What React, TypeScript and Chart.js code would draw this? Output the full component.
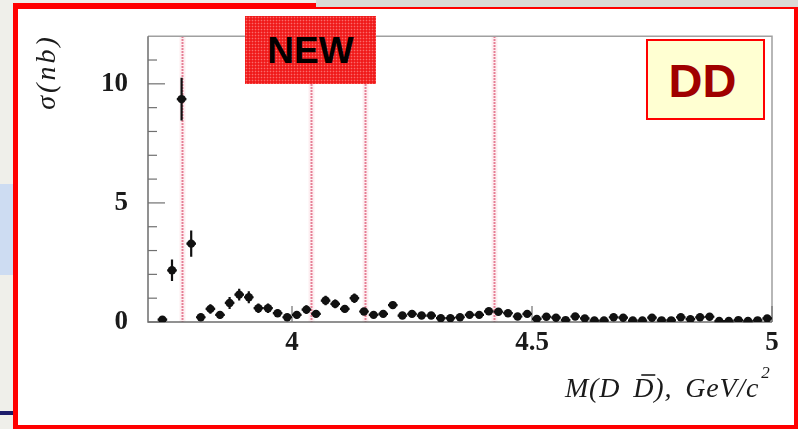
import React, { useEffect, useRef } from "react";
import { Chart, registerables } from "chart.js";

Chart.register(...registerables);

// Bin centres of M(D Dbar), GeV/c^2
const MASS = [
  3.73, 3.75, 3.77, 3.79, 3.81, 3.83, 3.85, 3.87, 3.89, 3.91,
  3.93, 3.95, 3.97, 3.99, 4.01, 4.03, 4.05, 4.07, 4.09, 4.11,
  4.13, 4.15, 4.17, 4.19, 4.21, 4.23, 4.25, 4.27, 4.29, 4.31,
  4.33, 4.35, 4.37, 4.39, 4.41, 4.43, 4.45, 4.47, 4.49, 4.51,
  4.53, 4.55, 4.57, 4.59, 4.61, 4.63, 4.65, 4.67, 4.69, 4.71,
  4.73, 4.75, 4.77, 4.79, 4.81, 4.83, 4.85, 4.87, 4.89, 4.91,
  4.93, 4.95, 4.97, 4.99,
];

// Cross section, nb
const SIGMA = [
  0.10, 2.17, 9.36, 3.29, 0.20, 0.55, 0.30, 0.80, 1.15, 1.04,
  0.58, 0.58, 0.37, 0.20, 0.30, 0.52, 0.34, 0.90, 0.76, 0.55,
  1.00, 0.44, 0.30, 0.34, 0.71, 0.27, 0.34, 0.27, 0.27, 0.16,
  0.16, 0.20, 0.30, 0.30, 0.45, 0.43, 0.37, 0.23, 0.34, 0.13,
  0.22, 0.18, 0.08, 0.23, 0.15, 0.06, 0.06, 0.20, 0.18, 0.06,
  0.06, 0.18, 0.07, 0.07, 0.20, 0.12, 0.20, 0.22, 0.04, 0.04,
  0.08, 0.04, 0.07, 0.15,
];

// Statistical errors, nb
const SIGMA_ERR = [
  0.10, 0.45, 0.90, 0.55, 0.15, 0.20, 0.15, 0.25, 0.25, 0.25,
  0.20, 0.20, 0.15, 0.12, 0.15, 0.18, 0.12, 0.20, 0.18, 0.15,
  0.20, 0.15, 0.10, 0.10, 0.15, 0.10, 0.10, 0.10, 0.10, 0.08,
  0.08, 0.08, 0.10, 0.10, 0.12, 0.12, 0.10, 0.08, 0.10, 0.07,
  0.08, 0.07, 0.06, 0.08, 0.07, 0.06, 0.06, 0.07, 0.07, 0.06,
  0.06, 0.07, 0.06, 0.06, 0.07, 0.06, 0.07, 0.07, 0.05, 0.05,
  0.06, 0.05, 0.06, 0.07,
];

const BIN_HALF_WIDTH = 0.01;

// psi(3770), psi(4040), psi(4160), psi(4415)
const RESONANCES = [3.77, 4.04, 4.153, 4.421];

const X_TICKS = [4, 4.5, 5];
const X_TICK_LABELS = ["4", "4.5", "5"];
const Y_TICKS = [0, 5, 10];
const Y_TICK_LABELS = ["0", "5", "10"];
const Y_MINOR = [1, 2, 3, 4, 6, 7, 8, 9, 11];

const SERIF = "'Liberation Serif', 'Times New Roman', serif";
const SANS = "'Liberation Sans', Arial, sans-serif";

const decorPlugin = {
  id: "decor",
  beforeDatasetsDraw(chart: any) {
    const { ctx, chartArea: a, scales } = chart;
    const xs = scales.x;
    const ys = scales.y;
    ctx.save();

    // resonance markers
    for (const m of RESONANCES) {
      const px = Math.round(xs.getPixelForValue(m)) + 0.5;
      ctx.strokeStyle = "rgba(250,205,215,0.35)";
      ctx.lineWidth = 6;
      ctx.setLineDash([]);
      ctx.beginPath();
      ctx.moveTo(px, a.top);
      ctx.lineTo(px, a.bottom);
      ctx.stroke();
      ctx.strokeStyle = "#df5a78";
      ctx.lineWidth = 2;
      ctx.setLineDash([1.5, 1.5]);
      ctx.beginPath();
      ctx.moveTo(px, a.top);
      ctx.lineTo(px, a.bottom);
      ctx.stroke();
    }
    ctx.setLineDash([]);

    // frame
    ctx.strokeStyle = "#a0a0a0";
    ctx.lineWidth = 1.5;
    ctx.beginPath();
    ctx.moveTo(a.left, a.top);
    ctx.lineTo(a.right, a.top);
    ctx.lineTo(a.right, a.bottom);
    ctx.stroke();
    ctx.strokeStyle = "#6e6e6e";
    ctx.beginPath();
    ctx.moveTo(a.left, a.top);
    ctx.lineTo(a.left, a.bottom);
    ctx.lineTo(a.right, a.bottom);
    ctx.stroke();

    // inward ticks
    ctx.lineWidth = 1.2;
    ctx.strokeStyle = "#707070";
    for (const v of Y_TICKS) {
      const py = ys.getPixelForValue(v);
      ctx.beginPath();
      ctx.moveTo(a.left, py);
      ctx.lineTo(a.left + 17, py);
      ctx.stroke();
    }
    for (const v of Y_MINOR) {
      const py = ys.getPixelForValue(v);
      ctx.beginPath();
      ctx.moveTo(a.left, py);
      ctx.lineTo(a.left + 9, py);
      ctx.stroke();
    }
    for (const v of X_TICKS) {
      const px = xs.getPixelForValue(v);
      ctx.beginPath();
      ctx.moveTo(px, a.bottom);
      ctx.lineTo(px, a.bottom - 16);
      ctx.stroke();
    }

    // error bars
    ctx.strokeStyle = "#111";
    ctx.lineWidth = 2.2;
    for (let i = 0; i < MASS.length; i++) {
      const cx = xs.getPixelForValue(MASS[i]);
      const cy = ys.getPixelForValue(SIGMA[i]);
      const x0 = xs.getPixelForValue(MASS[i] - BIN_HALF_WIDTH);
      const x1 = xs.getPixelForValue(MASS[i] + BIN_HALF_WIDTH);
      const y0 = ys.getPixelForValue(Math.max(0, SIGMA[i] - SIGMA_ERR[i]));
      const y1 = ys.getPixelForValue(SIGMA[i] + SIGMA_ERR[i]);
      ctx.beginPath();
      ctx.moveTo(x0, cy);
      ctx.lineTo(x1, cy);
      ctx.moveTo(cx, y0);
      ctx.lineTo(cx, y1);
      ctx.stroke();
    }
    ctx.restore();
  },
  afterDraw(chart: any) {
    const { ctx } = chart;
    ctx.save();
    ctx.fillStyle = "#1a1a1a";

    // y title
    ctx.save();
    ctx.translate(48, 72);
    ctx.rotate(-Math.PI / 2);
    ctx.font = `italic 28px ${SERIF}`;
    (ctx as any).letterSpacing = "3px";
    ctx.textAlign = "center";
    ctx.textBaseline = "middle";
    ctx.fillText("\u03c3(nb)", 0, 0);
    ctx.restore();

    // x title
    ctx.font = `italic 28px ${SERIF}`;
    (ctx as any).letterSpacing = "0.8px";
    ctx.textAlign = "left";
    ctx.textBaseline = "alphabetic";
    const base = 397;
    let x = 565;
    ctx.fillText("M(D", x, base);
    x += ctx.measureText("M(D").width + 13;
    const dW = ctx.measureText("D").width;
    ctx.fillText("D", x, base);
    ctx.strokeStyle = "#1a1a1a";
    ctx.lineWidth = 1.6;
    ctx.beginPath();
    ctx.moveTo(x + 8, base - 22);
    ctx.lineTo(x + dW + 1, base - 22);
    ctx.stroke();
    x += dW;
    ctx.fillText("),", x, base);
    x += ctx.measureText("),").width + 13;
    ctx.fillText("GeV/c", x, base);
    x += ctx.measureText("GeV/c").width + 2;
    ctx.font = `italic 17px ${SERIF}`;
    ctx.fillText("2", x, base - 19);
    ctx.restore();
  },
};

export default function App() {
  const ref = useRef<HTMLCanvasElement>(null);

  useEffect(() => {
    document.body.style.margin = "0";
    const points = MASS.map((m, i) => ({ x: m, y: SIGMA[i] }));
    const chart = new Chart(ref.current as HTMLCanvasElement, {
      type: "scatter",
      data: {
        datasets: [
          {
            data: points,
            pointRadius: 4.2,
            pointBackgroundColor: "#111",
            pointBorderColor: "#111",
            pointBorderWidth: 0,
            showLine: false,
          },
        ],
      },
      options: {
        animation: false,
        responsive: false,
        maintainAspectRatio: false,
        layout: { padding: { top: 35, right: 26, left: 0, bottom: 0 } },
        plugins: {
          legend: { display: false },
          tooltip: { enabled: false },
        },
        scales: {
          x: {
            type: "linear",
            min: 3.7,
            max: 5.0,
            grid: { display: false, drawTicks: false },
            border: { display: false },
            afterBuildTicks: (s: any) => {
              s.ticks = X_TICKS.map((v) => ({ value: v }));
            },
            afterFit: (s: any) => {
              s.height = 107;
            },
            ticks: {
              autoSkip: false,
              maxRotation: 0,
              padding: 5,
              color: "#1a1a1a",
              font: { family: SERIF, size: 27, weight: "bold" },
              callback: (v: any) => {
                const i = X_TICKS.indexOf(Number(v));
                return i >= 0 ? X_TICK_LABELS[i] : "";
              },
            },
          },
          y: {
            type: "linear",
            min: 0,
            max: 12,
            grid: { display: false, drawTicks: false },
            border: { display: false },
            afterBuildTicks: (s: any) => {
              s.ticks = Y_TICKS.map((v) => ({ value: v }));
            },
            afterFit: (s: any) => {
              s.width = 148;
            },
            ticks: {
              padding: 20,
              color: "#1a1a1a",
              font: { family: SERIF, size: 27, weight: "bold" },
              callback: (v: any) => {
                const i = Y_TICKS.indexOf(Number(v));
                return i >= 0 ? Y_TICK_LABELS[i] : "";
              },
            },
          },
        },
      } as any,
      plugins: [decorPlugin],
    });
    return () => chart.destroy();
  }, []);

  return (
    <div
      style={{
        position: "relative",
        width: 798,
        height: 429,
        overflow: "hidden",
        background: "#efefea",
      }}
    >
      <div
        style={{
          position: "absolute",
          left: 0,
          top: 184,
          width: 14,
          height: 91,
          background: "#cddcf2",
        }}
      />
      <div
        style={{
          position: "absolute",
          left: 0,
          top: 411,
          width: 14,
          height: 4,
          background: "#1c1c6a",
        }}
      />
      <div
        style={{
          position: "absolute",
          left: 13,
          top: 3,
          width: 785,
          height: 426,
          boxSizing: "border-box",
          background: "#ffffff",
          borderStyle: "solid",
          borderColor: "#ff0000",
          borderWidth: "6px 4px 4px 5px",
        }}
      />
      <div
        style={{
          position: "absolute",
          left: 316,
          top: 0,
          width: 482,
          height: 7,
          background: "#dadad6",
        }}
      />
      <canvas
        ref={ref}
        width={798}
        height={429}
        style={{ position: "absolute", left: 0, top: 0 }}
      />
      <div
        style={{
          position: "absolute",
          left: 245,
          top: 16,
          width: 131,
          height: 68,
          backgroundColor: "#f01a1a",
          backgroundImage:
            "radial-gradient(circle, rgba(255,150,150,0.65) 0.7px, transparent 1.1px)",
          backgroundSize: "3px 3px",
          display: "flex",
          alignItems: "center",
          justifyContent: "center",
          fontFamily: SANS,
          fontWeight: "bold",
          fontSize: 37,
          lineHeight: 1,
          color: "#000",
        }}
      >
        NEW
      </div>
      <div
        style={{
          position: "absolute",
          left: 646,
          top: 39,
          width: 119,
          height: 81,
          boxSizing: "border-box",
          border: "2px solid #ff0000",
          background: "#ffffd2",
          display: "flex",
          alignItems: "center",
          justifyContent: "center",
          paddingTop: 2,
          paddingRight: 6,
          fontFamily: SANS,
          fontWeight: "bold",
          fontSize: 47,
          lineHeight: 1,
          color: "#a00000",
        }}
      >
        DD
      </div>
    </div>
  );
}
